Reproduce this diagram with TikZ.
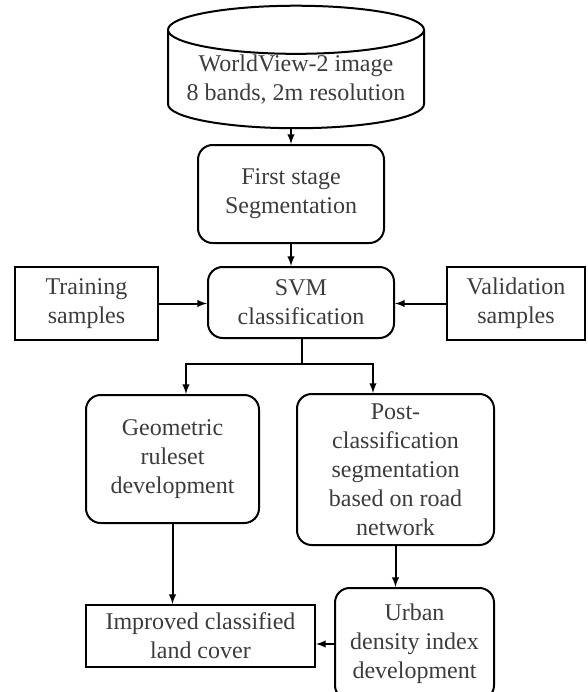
\documentclass[tikz,border=0pt]{standalone}
\usepackage{fontspec}
\setmainfont{Liberation Serif}
\usetikzlibrary{shapes.geometric,positioning}
\definecolor{txtgray}{RGB}{60,60,60}
\tikzset{box/.style={draw, line width=1.5pt, align=center, text=txtgray, font=\fontsize{18}{21.75}\selectfont, inner sep=0pt}}
\tikzset{rbox/.style={box, rounded corners=11pt}}
\tikzset{db/.style={box, cylinder, shape border rotate=90, shape aspect=0.22}}
\tikzset{link/.style={line width=1.5pt, -latex}}

\begin{document}
\begin{tikzpicture}[x=0.75pt,y=-0.75pt]
    \useasboundingbox (0,0) rectangle (587,692);
    \node[db, minimum width=192pt, minimum height=69pt] (wv) at (296,79.5) {WorldView-2 image\\8 bands, 2m resolution};
    \node[rbox, minimum width=139.5pt, minimum height=73.5pt] (seg) at (291,194) {First stage\\Segmentation};
    \node[rbox, minimum width=139.5pt, minimum height=53.25pt] (svm) at (301,302.5) {SVM\\classification};
    \node[box, minimum width=107.25pt, minimum height=54.75pt] (train) at (86.5,303.5) {Training\\samples};
    \node[box, minimum width=103.5pt, minimum height=54.75pt] (valid) at (516,303.5) {Validation\\samples};
    \node[rbox, minimum width=129.75pt, minimum height=96pt] (geo) at (172.5,459) {Geometric\\ruleset\\development};
    \node[rbox, minimum width=147.75pt, minimum height=113.25pt] (post) at (395.5,469.5) {Post-\\classification\\segmentation\\based on road\\network};
    \node[box, minimum width=171.75pt, minimum height=46.5pt] (impr) at (200.5,636) {Improved classified\\land cover};
    \node[rbox, minimum width=119.25pt, minimum height=84pt] (urban) at (414.5,644) {Urban\\density index\\development};
    \coordinate (fork) at (302,364);
    \draw[link] (wv.south -| seg.north) -- (seg.north);
    \draw[link] (seg.south) -- (seg.south |- svm.north);
    \draw[link] (train.east) -- (train.east -| svm.west);
    \draw[link] (valid.west) -- (valid.west -| svm.east);
    \draw[line width=1.5pt] (svm.south -| fork) -- (fork);
    \draw[link] (fork) -| ([xshift=10.1pt]geo.north);
    \draw[link] (fork) -| ([xshift=-16.9pt]post.north);
    \draw[link] (geo.south) -- (geo.south |- impr.north);
    \draw[link] (post.south) -- (post.south |- urban.north);
    \draw[link] (urban.west) -- (urban.west -| impr.east);
\end{tikzpicture}
\end{document}
